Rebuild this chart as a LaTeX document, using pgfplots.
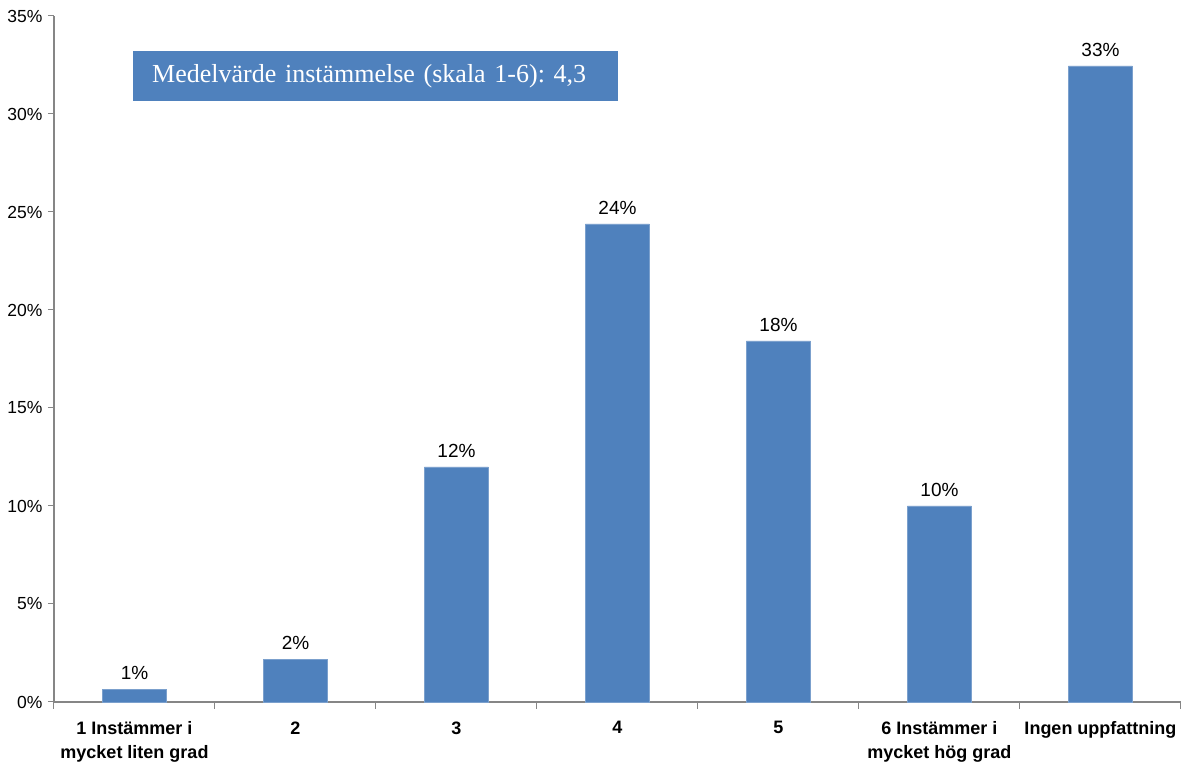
\documentclass[border=0pt]{standalone}
\usepackage{pgfplots}
\pgfplotsset{compat=1.18}
\usepackage{fontspec}
\setmainfont{Liberation Sans}
\newfontfamily\serifbox{Liberation Serif}
\definecolor{barblue}{HTML}{4F81BD}
\definecolor{axgray}{HTML}{868686}
\frenchspacing
\begin{document}
\begin{tikzpicture}[x=1pt,y=1pt]
\begin{axis}[
  scale only axis,
  width=1127pt, height=686pt,
  xmin=-0.5, xmax=6.5,
  ymin=0, ymax=35,
  axis lines=left,
  axis line style={axgray, line width=1.2pt, -},
  ytick={0,5,...,35},
  yticklabel={\pgfmathprintnumber{\tick}\%},
  /pgf/number format/assume math mode=true,
  yticklabel style={font=\fontsize{17.5}{20}\selectfont, text=black, xshift=-2pt},
  xtick={0,...,6},
  xticklabels={{1 Instämmer i\\mycket liten grad},{2},{3},{4},{5},{6 Instämmer i\\mycket hög grad},{Ingen uppfattning}},
  xticklabel style={font=\bfseries\fontsize{18}{24}\selectfont, align=center, text=black, yshift=-10pt},
  major x tick style={draw=none},
  minor xtick={-0.5,0.5,...,6.5},
  minor x tick style={axgray, line width=1pt},
  minor tick length=7pt,
  tick align=outside,
  major tick length=6pt,
  y tick style={axgray, line width=1pt},
  ymajorgrids=false,
  clip=false,
]
\addplot[ybar, bar width=64pt, fill=barblue, draw=barblue!75!white, line width=0.6pt,
  point meta=explicit symbolic,
  nodes near coords,
  nodes near coords style={font=\fontsize{19}{22}\selectfont, text=black, yshift=6pt}]
  table[meta=label] {
  x y label
  0 0.66 1\%
  1 2.19 2\%
  2 11.99 12\%
  3 24.39 24\%
  4 18.42 18\%
  5 10.0 10\%
  6 32.45 33\%
};
\node[fill=barblue, text=white, font=\serifbox\fontsize{26}{30}\selectfont,
  minimum width=485pt, minimum height=50pt, inner xsep=19pt, inner ysep=0pt, anchor=north west, align=left, text width=447pt]
  at (axis cs:-0.5,35) [xshift=79pt, yshift=-35pt] {Medelvärde instämmelse (skala 1-6): 4,3};
\end{axis}
\pgfresetboundingbox
\path (current axis.south west) ++(-54pt,-65pt) rectangle ++(1181pt,767pt);
\end{tikzpicture}
\end{document}
